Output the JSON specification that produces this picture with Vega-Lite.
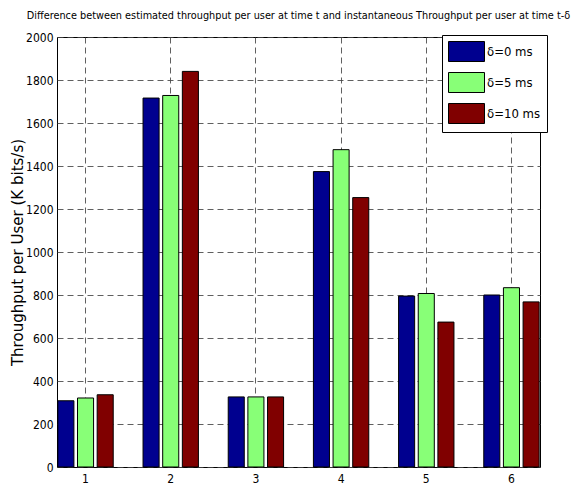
{
  "$schema": "https://vega.github.io/schema/vega-lite/v6.json",
  "width": 483,
  "height": 430,
  "autosize": "none",
  "padding": {"left": 57, "top": 37, "right": 39, "bottom": 23},
  "background": "white",
  "title": {
    "text": "Difference between estimated throughput per user at time t and instantaneous Throughput per user at time t-δ",
    "fontSize": 10.8,
    "fontWeight": "normal",
    "font": "DejaVu Sans Condensed, sans-serif",
    "color": "black",
    "anchor": "middle",
    "offset": 10
  },
  "config": {
    "font": "DejaVu Sans Condensed, sans-serif",
    "view": {"stroke": "black", "strokeWidth": 1},
    "axis": {
      "domainColor": "black",
      "tickColor": "black",
      "labelColor": "black",
      "titleColor": "black",
      "labelFontSize": 12,
      "gridColor": "#444",
      "gridDash": [6, 4],
      "gridOpacity": 0.85,
      "gridWidth": 1
    },
    "legend": {
      "orient": "none",
      "legendX": 385,
      "legendY": -2,
      "padding": 6,
      "fillColor": "white",
      "strokeColor": "black",
      "symbolType": "M-1.8,-1L1.8,-1L1.8,1L-1.8,1Z",
      "symbolSize": 400,
      "symbolStrokeColor": "black",
      "symbolStrokeWidth": 1,
      "symbolOpacity": 1,
      "symbolOffset": 8,
      "labelOffset": 10,
      "rowPadding": 6,
      "labelFontSize": 13,
      "labelColor": "black"
    }
  },
  "data": {
    "values": [
      {"user": "1", "delay": "δ=0 ms", "throughput": 308},
      {"user": "1", "delay": "δ=5 ms", "throughput": 321},
      {"user": "1", "delay": "δ=10 ms", "throughput": 336},
      {"user": "2", "delay": "δ=0 ms", "throughput": 1716},
      {"user": "2", "delay": "δ=5 ms", "throughput": 1728},
      {"user": "2", "delay": "δ=10 ms", "throughput": 1840},
      {"user": "3", "delay": "δ=0 ms", "throughput": 326},
      {"user": "3", "delay": "δ=5 ms", "throughput": 326},
      {"user": "3", "delay": "δ=10 ms", "throughput": 326},
      {"user": "4", "delay": "δ=0 ms", "throughput": 1374},
      {"user": "4", "delay": "δ=5 ms", "throughput": 1476},
      {"user": "4", "delay": "δ=10 ms", "throughput": 1253},
      {"user": "5", "delay": "δ=0 ms", "throughput": 795},
      {"user": "5", "delay": "δ=5 ms", "throughput": 807},
      {"user": "5", "delay": "δ=10 ms", "throughput": 674},
      {"user": "6", "delay": "δ=0 ms", "throughput": 800},
      {"user": "6", "delay": "δ=5 ms", "throughput": 834},
      {"user": "6", "delay": "δ=10 ms", "throughput": 768}
    ]
  },
  "mark": {"type": "bar", "stroke": "black", "strokeWidth": 1, "cornerRadius": 0},
  "encoding": {
    "x": {
      "field": "user",
      "type": "ordinal",
      "scale": {"paddingInner": 0.35, "paddingOuter": 0.01},
      "axis": {
        "title": null,
        "labelAngle": 0,
        "grid": true,
        "domain": false,
        "ticks": false,
        "labelPadding": 6
      }
    },
    "xOffset": {
      "field": "delay",
      "type": "nominal",
      "sort": ["δ=0 ms", "δ=5 ms", "δ=10 ms"],
      "scale": {"paddingInner": 0.183, "paddingOuter": 0}
    },
    "y": {
      "field": "throughput",
      "type": "quantitative",
      "scale": {"domain": [0, 2000], "nice": false},
      "axis": {
        "title": "Throughput per User (K bits/s)",
        "titleFont": "DejaVu Sans, sans-serif",
        "titleFontSize": 15,
        "titleFontWeight": "normal",
        "titlePadding": 0,
        "format": "d",
        "values": [0, 200, 400, 600, 800, 1000, 1200, 1400, 1600, 1800, 2000],
        "grid": true,
        "domain": false,
        "ticks": false,
        "labelPadding": 4
      }
    },
    "color": {
      "field": "delay",
      "type": "nominal",
      "sort": ["δ=0 ms", "δ=5 ms", "δ=10 ms"],
      "scale": {"domain": ["δ=0 ms", "δ=5 ms", "δ=10 ms"], "range": ["#00008F", "#88FF77", "#800000"]},
      "legend": {"title": null}
    }
  }
}
